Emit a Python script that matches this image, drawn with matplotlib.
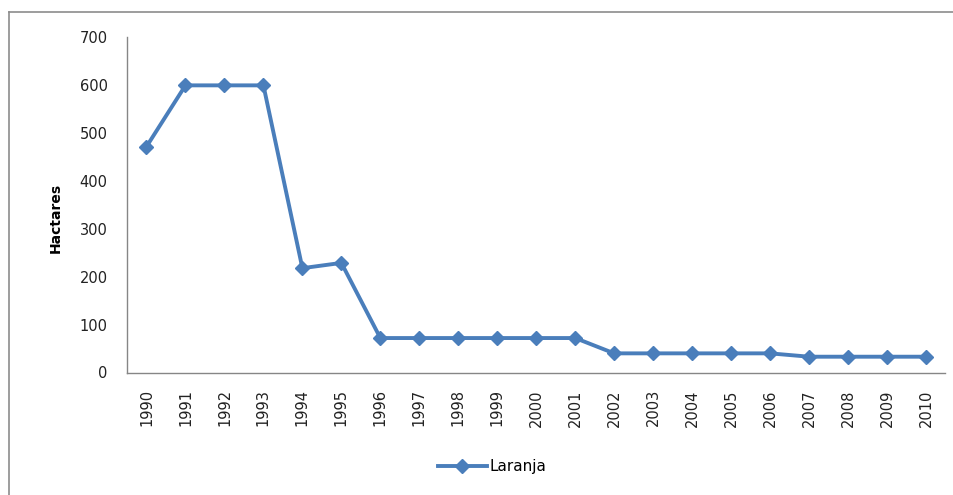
import matplotlib
matplotlib.use("Agg")
import matplotlib.pyplot as plt
from matplotlib.lines import Line2D

plt.rcParams['font.family'] = ['DejaVu Sans']
plt.rcParams['font.sans-serif'] = ['DejaVu Sans']

years = [str(y) for y in range(1990, 2011)]
laranja = [472, 600, 600, 600, 218, 229, 72, 72, 72, 72, 72, 72,
           40, 40, 40, 40, 40, 33, 33, 33, 33]
yticks = [0, 100, 200, 300, 400, 500, 600, 700]

W, H = 954, 495
fig = plt.figure(figsize=(W / 100, H / 100), dpi=100)

ax = fig.add_axes([127 / W, 1 - 372.5 / H, (945.5 - 127) / W, (372.5 - 37.5) / H])
color = '#4A7EBB'
x = list(range(len(years)))
ax.plot(x, laranja, color=color, lw=2.8, marker='D', markersize=7.5,
        markeredgecolor=color, markerfacecolor=color, label='Laranja')

ax.set_xlim(-0.5, len(years) - 0.5)
ax.set_ylim(0, 700)
ax.set_yticks(yticks)
ax.set_yticklabels([str(v) for v in yticks], fontsize=10.5, color='#222222')
ax.set_xticks(x)
ax.set_xticklabels(years, rotation=90, fontsize=10.5, color='#222222')
ax.tick_params(axis='both', length=0)
ax.tick_params(axis='y', pad=14)
ax.tick_params(axis='x', pad=12)
for s in ['top', 'right']:
    ax.spines[s].set_visible(False)
ax.spines['left'].set_color('#868686')
ax.spines['bottom'].set_color('#868686')
ax.spines['left'].set_linewidth(1)
ax.spines['bottom'].set_linewidth(1)

fig.text(56 / W, 1 - 218 / H, 'Hactares', rotation=90, fontsize=10,
         fontweight='bold', ha='center', va='center')

leg = fig.legend(handles=[Line2D([], [], color=color, lw=2.8, marker='D',
                                 markersize=7.5, markeredgecolor=color)],
                 labels=['Laranja'], loc='center',
                 bbox_to_anchor=(492 / W, 1 - 467 / H), frameon=False,
                 fontsize=11, handlelength=3.2, handletextpad=0.15)

# outer chart border (top and left visible)
fig.add_artist(Line2D([9 / W, 953 / W], [1 - 11.5 / H, 1 - 11.5 / H],
                      color='#8c8c8c', lw=1.2, transform=fig.transFigure))
fig.add_artist(Line2D([9.5 / W, 9.5 / W], [1 - 11.5 / H, 0],
                      color='#8c8c8c', lw=1.2, transform=fig.transFigure))

fig.savefig('out.png', dpi=100)
